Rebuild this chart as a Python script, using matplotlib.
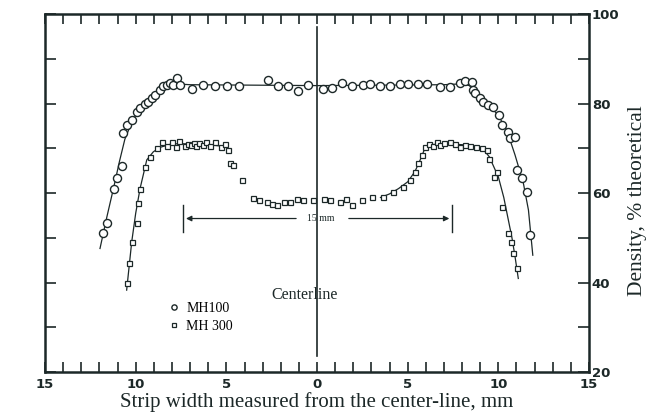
import matplotlib
matplotlib.use("Agg")
import matplotlib.pyplot as plt
import numpy as np

# MH100 measured points (mm from center-line, density % theoretical)
mh100_x = [-11.79, -11.57, -11.18, -11.05, -10.77, -10.68, -10.50, -10.22, -9.95, -9.76,
           -9.49, -9.30, -9.12, -8.94, -8.66, -8.51, -8.29, -8.11, -7.93, -7.74,
           -7.56, -6.91, -6.27, -5.63, -4.95, -4.30, -2.68, -2.13, -1.58, -1.03,
           -0.48, 0.35, 0.81, 1.36, 1.91, 2.55, 2.92, 3.47, 4.03, 4.58,
           5.04, 5.59, 6.05, 6.78, 7.34, 7.89, 8.16, 8.53, 8.62, 8.71,
           8.99, 9.17, 9.45, 9.72, 10.06, 10.19, 10.55, 10.65, 10.92, 11.02,
           11.29, 11.60, 11.75]
mh100_y = [51.0, 53.2, 61.0, 63.3, 66.0, 73.3, 75.2, 76.3, 78.2, 78.9,
           80.0, 80.4, 81.2, 81.9, 83.0, 83.9, 84.1, 84.5, 84.1, 85.6,
           84.1, 83.2, 84.1, 83.9, 84.0, 83.9, 85.3, 83.9, 83.9, 82.8,
           84.1, 83.2, 83.5, 84.6, 83.9, 84.1, 84.4, 83.9, 83.9, 84.4,
           84.4, 84.4, 84.4, 83.8, 83.8, 84.5, 85.1, 84.9, 83.0, 82.3,
           81.2, 80.4, 79.7, 79.3, 77.4, 75.2, 73.7, 72.2, 72.6, 65.1,
           63.3, 60.3, 50.6]

# MH 300 measured points
mh300_x = [-10.50, -10.35, -10.22, -9.95, -9.89, -9.76, -9.49, -9.21, -8.84, -8.57,
           -8.30, -8.00, -7.80, -7.60, -7.30, -7.10, -6.95, -6.80, -6.65, -6.50,
           -6.30, -6.10, -5.90, -5.60, -5.30, -5.05, -4.89, -4.80, -4.62, -4.15,
           -3.51, -3.20, -2.78, -2.50, -2.22, -1.80, -1.49, -1.10, -0.76, -0.20,
           0.40, 0.72, 1.27, 1.60, 1.91, 2.47, 3.02, 3.66, 4.21, 4.76,
           5.13, 5.40, 5.59, 5.77, 5.96, 6.20, 6.40, 6.60, 6.80, 7.00,
           7.34, 7.60, 7.89, 8.15, 8.44, 8.75, 9.08, 9.36, 9.50, 9.78,
           9.95, 10.19, 10.55, 10.68, 10.83, 11.02]
mh300_y = [39.8, 44.3, 49.1, 53.2, 57.8, 61.0, 65.9, 68.1, 70.0, 71.5,
           70.6, 71.4, 70.2, 71.6, 70.5, 71.0, 70.8, 71.2, 70.6, 71.1,
           70.7, 71.5, 70.4, 71.3, 70.2, 70.9, 69.6, 66.6, 66.3, 62.9,
           58.8, 58.4, 58.1, 57.6, 57.3, 57.9, 58.1, 58.6, 58.4, 58.4,
           58.7, 58.4, 58.1, 58.6, 57.3, 58.4, 59.2, 59.2, 60.3, 61.4,
           62.9, 64.8, 66.6, 68.5, 70.3, 71.0, 70.6, 71.3, 70.8, 71.2,
           71.5, 70.9, 70.2, 70.8, 70.5, 70.3, 70.0, 69.6, 67.5, 63.6,
           64.8, 56.9, 51.0, 49.1, 46.7, 43.2]

# hand-drawn fit curves
fit100_x = [-11.97, -11.6, -11.2, -10.9, -10.6, -10.2, -9.8, -9.4, -9.0, -8.6, -8.2, -7.8,
            -7.0, 0.0, 7.0, 8.0, 8.4, 8.8, 9.2, 9.6, 10.0, 10.46, 10.92, 11.38, 11.66, 11.9]
fit100_y = [47.6, 54.5, 61.5, 67.0, 72.0, 76.0, 78.7, 80.5, 82.0, 83.3, 84.1, 84.4,
            84.2, 84.0, 84.2, 84.4, 84.0, 82.5, 80.8, 79.2, 77.3, 74.1, 68.5, 62.2, 56.2, 46.1]
fit300l_x = [-10.5, -10.22, -10.0, -9.76, -9.39, -9.03, -8.66, -8.0, -7.0, -6.0, -5.3]
fit300l_y = [38.3, 49.1, 55.5, 61.0, 67.4, 69.2, 70.2, 71.0, 71.0, 70.8, 70.5]
fit300r_x = [3.5, 4.0, 4.5, 5.0, 5.4, 5.7, 5.95, 6.3, 7.0, 8.0, 8.8, 9.2, 9.5,
             10.0, 10.3, 10.55, 10.75, 10.92, 11.1]
fit300r_y = [59.0, 59.8, 61.0, 62.5, 64.8, 67.5, 70.0, 70.8, 71.0, 70.8, 70.3, 69.6, 68.1,
             63.6, 59.0, 54.0, 50.0, 45.8, 40.9]

xtick_pos = [-15, -10, -5, 0, 5, 10, 15]
xtick_lab = ['15', '10', '5', '0', '5', '10', '15']
ytick_pos = [20, 40, 60, 80, 100]

ink = '#1c2828'
serif = ['Liberation Serif', 'DejaVu Serif']

fig = plt.figure(figsize=(6.53, 4.18), dpi=100)
ax = fig.add_axes([0.069, 0.110, 0.833, 0.8565])

ax.plot(fit100_x, fit100_y, color=ink, lw=0.9)
ax.plot(fit300l_x, fit300l_y, color=ink, lw=0.9)
ax.plot(fit300r_x, fit300r_y, color=ink, lw=0.9)
ax.plot(mh100_x, mh100_y, 'o', ms=5.8, mfc='white', mec=ink, mew=1.0, label='MH100')
ax.plot(mh300_x, mh300_y, 's', ms=3.6, mfc='white', mec=ink, mew=0.9, label='MH 300')

# center line and the 15 mm span
ax.plot([0, 0], [23.5, 97], color=ink, lw=1.2)
ax.text(-2.5, 37.2, 'Centerline', family=serif, fontsize=11.5, color=ink, va='center', ha='left')
for xe in (-7.38, 7.45):
    ax.plot([xe, xe], [51.3, 57.4], color=ink, lw=1.0)
ax.annotate('', xy=(-7.38, 54.3), xytext=(-1.0, 54.3),
            arrowprops=dict(arrowstyle='-|>', color=ink, lw=0.9, mutation_scale=8))
ax.annotate('', xy=(7.45, 54.3), xytext=(1.6, 54.3),
            arrowprops=dict(arrowstyle='-|>', color=ink, lw=0.9, mutation_scale=8))
ax.text(0.2, 54.3, '15 mm', family=serif, fontsize=7, color=ink, va='center', ha='center')

ax.set_xlim(-15, 15)
ax.set_ylim(20, 100)
ax.set_xticks(xtick_pos)
ax.set_xticklabels(xtick_lab)
ax.set_xticks(np.arange(-15, 16, 1), minor=True)
ax.set_yticks(ytick_pos)
ax.set_yticks(np.arange(20, 101, 10), minor=True)
ax.tick_params(axis='x', which='both', direction='in', top=True, bottom=True,
               length=7, width=1.2, color=ink, pad=4)
ax.tick_params(axis='y', which='both', direction='in', left=True, right=True,
               labelleft=False, labelright=True, length=8, width=1.2, color=ink, pad=2)
for lab in ax.get_xticklabels() + ax.get_yticklabels():
    lab.set_fontweight('bold')
    lab.set_fontsize(9.5)
    lab.set_color(ink)
for s in ax.spines.values():
    s.set_linewidth(1.8)
    s.set_color(ink)

ax.set_xlabel('Strip width measured from the center-line, mm', family=serif,
              fontsize=15, color=ink, labelpad=1)
ax.yaxis.set_label_position('right')
ax.set_ylabel('Density, % theoretical', family=serif, fontsize=15.5, color=ink)
ax.yaxis.set_label_coords(1.09, 0.48)
ax.yaxis.label.set_va('center')

ax.legend(loc='upper left', bbox_to_anchor=(0.2165, 0.215), frameon=False,
          prop={'family': serif, 'size': 10}, handlelength=0.6, handletextpad=0.6,
          markerscale=0.65, labelspacing=0.35, borderpad=0)

fig.savefig('out.png', dpi=100)
